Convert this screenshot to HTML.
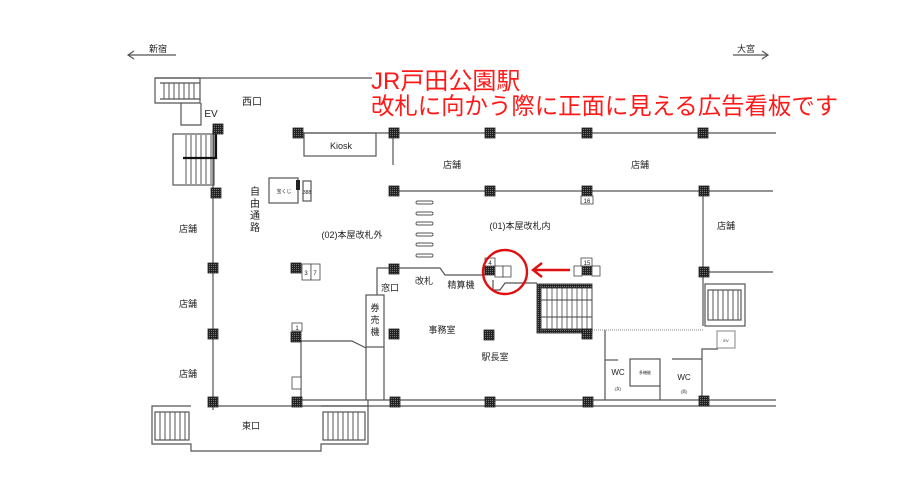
<!DOCTYPE html>
<html><head><meta charset="utf-8"><style>
html,body{margin:0;padding:0;background:#fff;}
svg{display:block;}
text{font-family:"Liberation Sans","Noto Sans CJK JP",sans-serif;fill:#222;}
</style></head><body>
<svg width="919" height="491" viewBox="0 0 919 491" xmlns="http://www.w3.org/2000/svg">
<defs>
<pattern id="cp" width="2" height="2" patternUnits="userSpaceOnUse"><rect width="2" height="2" fill="#222"/><rect width="1" height="1" fill="#777"/></pattern>
<g id="col"><rect x="-5" y="-5" width="10" height="10" fill="url(#cp)" stroke="#222" stroke-width="0.8"/></g>
</defs>
<g stroke="#555" stroke-width="1.2" fill="none">
<line x1="128" y1="55" x2="176" y2="55"/><polyline points="134,51 128,55 134,59"/>
<line x1="733" y1="55" x2="768" y2="55"/><polyline points="762,51 768,55 762,59"/>
<line x1="155" y1="78" x2="372" y2="78"/>
<polyline points="200,78 155,78 155,103 200,103 200,78"/>
<line x1="160" y1="83" x2="200" y2="83"/><line x1="160" y1="99" x2="200" y2="99"/>
<polyline points="181,103 181,125 201,125 201,103"/>
<rect x="173" y="134" width="41" height="51"/>
<line x1="213" y1="130" x2="213" y2="410"/>
<line x1="298" y1="133" x2="776" y2="133"/>
<line x1="393" y1="191" x2="773" y2="191"/>
<line x1="393" y1="133" x2="393" y2="165"/>
<rect x="304" y="133" width="72" height="23"/>
<line x1="703" y1="191" x2="703" y2="326"/>
<line x1="703" y1="272" x2="773" y2="272"/>
<rect x="269" y="178" width="29" height="25"/>
<rect x="303" y="181" width="8" height="20"/>
<polyline points="393,268 377,268 377,295"/>
<polyline points="398,268 440,268 445,275 485,275"/>
<rect x="366" y="295" width="18" height="52"/>
<line x1="366" y1="347" x2="366" y2="400"/><line x1="384" y1="347" x2="384" y2="400"/>
<polyline points="301,400 301,341 352,341 366,348"/>
<polyline points="493,280 493,290 500,290 505,283 537,283"/>
<line x1="298" y1="400" x2="776" y2="400"/>
<line x1="298" y1="406" x2="776" y2="406"/>
<line x1="213" y1="406" x2="298" y2="406"/>
<polyline points="191,406 152,406 152,444 191,444 191,451 321,451 321,444 368,444 368,406 321,406"/>
<rect x="155" y="412" width="34" height="28"/>
<rect x="323" y="412" width="42" height="28"/>
<line x1="368" y1="406" x2="368" y2="400"/>
<line x1="605" y1="330" x2="605" y2="400"/>
<line x1="605" y1="360" x2="618" y2="360"/>
<rect x="630" y="359" width="30" height="27"/>
<line x1="660" y1="386" x2="660" y2="400"/>
<line x1="672" y1="359" x2="702" y2="359"/>
<polyline points="702,400 702,349 718,349"/>
<rect x="717" y="331" width="18" height="17" stroke="#999"/>
<rect x="705" y="284" width="40" height="42"/>
<rect x="708" y="290" width="33" height="30"/>
</g>
<line x1="592" y1="330" x2="703" y2="330" stroke="#888" stroke-dasharray="1,1"/>
<g stroke="#555" stroke-width="1">
<path d="M164 83v16M169 83v16M174 83v16M179 83v16M184 83v16M189 83v16M194 83v16"/>
<path d="M186 135v49M191 135v49M196 135v49M201 135v49M206 135v49M211 135v49"/>
<path d="M160 412v28M165 412v28M170 412v28M175 412v28M180 412v28M185 412v28"/>
<path d="M328 412v28M333 412v28M338 412v28M343 412v28M348 412v28M353 412v28M358 412v28"/>
<path d="M713 290v30M718 290v30M723 290v30M728 290v30M733 290v30M738 290v30"/>
</g>
<path d="M183 158H216V133" stroke="#111" stroke-width="2.2" fill="none"/>
<g fill="#fff" stroke="#555" stroke-width="0.9">
<rect x="416" y="201" width="17" height="3" rx="1.5"/><rect x="416" y="212" width="17" height="3" rx="1.5"/>
<rect x="416" y="222" width="17" height="3" rx="1.5"/><rect x="416" y="233" width="17" height="3" rx="1.5"/>
<rect x="416" y="243" width="17" height="3" rx="1.5"/><rect x="416" y="254" width="17" height="3" rx="1.5"/>
</g>
<g stroke="#444" fill="none">
<rect x="537" y="284" width="55" height="49"/>
<rect x="537" y="284" width="55" height="4" fill="url(#cp)"/>
<rect x="537" y="329" width="55" height="4" fill="url(#cp)"/>
<rect x="537" y="284" width="4" height="49" fill="url(#cp)"/>
<line x1="541" y1="300" x2="592" y2="300"/><line x1="541" y1="317" x2="592" y2="317"/>
<path d="M547 288v12M552 288v12M557 288v12M562 288v12M567 288v12M572 288v12M577 288v12M582 288v12M587 288v12M547 300v17M552 300v17M557 300v17M562 300v17M567 300v17M572 300v17M577 300v17M582 300v17M587 300v17M547 317v12M552 317v12M557 317v12M562 317v12M567 317v12M572 317v12M577 317v12M582 317v12M587 317v12" stroke-width="0.8"/>
</g>
<use href="#col" x="218" y="129"/><use href="#col" x="216" y="193"/>
<use href="#col" x="213" y="268"/><use href="#col" x="213" y="334"/><use href="#col" x="213" y="402"/>
<use href="#col" x="298" y="133"/><use href="#col" x="394" y="133"/><use href="#col" x="490" y="133"/><use href="#col" x="587" y="133"/><use href="#col" x="703" y="133"/>
<use href="#col" x="394" y="191"/><use href="#col" x="490" y="191"/><use href="#col" x="587" y="191"/><use href="#col" x="704" y="191"/>
<use href="#col" x="296" y="268"/><use href="#col" x="394" y="269"/><use href="#col" x="490" y="270"/><use href="#col" x="587" y="270"/><use href="#col" x="704" y="272"/>
<use href="#col" x="296" y="337"/><use href="#col" x="394" y="334"/><use href="#col" x="489" y="335"/><use href="#col" x="587" y="334"/>
<use href="#col" x="297" y="402"/><use href="#col" x="395" y="402"/><use href="#col" x="490" y="402"/><use href="#col" x="588" y="402"/><use href="#col" x="704" y="401"/>
<rect x="296" y="180" width="4" height="10" fill="#222"/>
<g fill="#fff" stroke="#444" stroke-width="0.8">
<rect x="302" y="264" width="9" height="16"/><rect x="311" y="264" width="9" height="16"/>
<rect x="292" y="323" width="10" height="8"/>
<rect x="292" y="377" width="9" height="12"/>
<rect x="581" y="196" width="12" height="8"/>
<rect x="485" y="258" width="10" height="8"/>
<rect x="495" y="266" width="8" height="11"/><rect x="503" y="266" width="8" height="11"/>
<rect x="581" y="258" width="11" height="8"/>
<rect x="574" y="266" width="8" height="10"/><rect x="592" y="266" width="8" height="10"/>
</g>
<g font-size="6" text-anchor="middle">
<text x="306" y="275">3</text><text x="315" y="275">7</text><text x="297" y="330">1</text>
<text x="587" y="203">16</text><text x="490" y="265">4</text><text x="587" y="265">15</text>
<text x="307" y="194" font-size="5">388</text>
</g>
<g font-size="11" text-anchor="middle">
<text x="158" y="52" font-size="9">新宿</text><text x="746" y="52" font-size="9">大宮</text>
<text x="252" y="105" font-size="10">西口</text><text x="211" y="117" font-size="10">EV</text>
<text x="341" y="149" font-size="9">Kiosk</text><text x="284" y="193" font-size="5">宝くじ</text>
<text x="255" y="195" font-size="10">自</text><text x="255" y="207" font-size="10">由</text><text x="255" y="219" font-size="10">通</text><text x="255" y="231" font-size="10">路</text>
<text x="188" y="232" font-size="9">店舗</text><text x="188" y="307" font-size="9">店舗</text><text x="188" y="377" font-size="9">店舗</text>
<text x="452" y="168" font-size="9">店舗</text><text x="640" y="168" font-size="9">店舗</text><text x="726" y="229" font-size="9">店舗</text>
<text x="352" y="238" font-size="9">(02)本屋改札外</text><text x="520" y="229" font-size="9">(01)本屋改札内</text>
<text x="424" y="284" font-size="9">改札</text><text x="461" y="288" font-size="9">精算機</text>
<text x="390" y="291" font-size="9">窓口</text>
<text x="375" y="311" font-size="9">券</text><text x="375" y="323" font-size="9">売</text><text x="375" y="335" font-size="9">機</text>
<text x="442" y="333" font-size="9">事務室</text><text x="495" y="360" font-size="9">駅長室</text>
<text x="251" y="429" font-size="9">東口</text>
<text x="618" y="375" font-size="8">WC</text><text x="684" y="380" font-size="8">WC</text>
<text x="618" y="390" font-size="4">(女)</text><text x="684" y="393" font-size="4">(男)</text>
<text x="645" y="374" font-size="4">多機能</text><text x="726" y="342" font-size="4">EV</text>
</g>
<circle cx="505" cy="272" r="22" fill="none" stroke="#e01010" stroke-width="2.4"/>
<line x1="570" y1="270" x2="534" y2="270" stroke="#e01010" stroke-width="2.4"/>
<polyline points="542,263 533,270 542,277" fill="none" stroke="#e01010" stroke-width="2.4"/>
<text x="371" y="89" font-size="24" style="fill:#ff1a1a">JR戸田公園駅</text>
<text x="371" y="114" font-size="23.4" style="fill:#ff1a1a">改札に向かう際に正面に見える広告看板です</text>
</svg>
</body></html>
